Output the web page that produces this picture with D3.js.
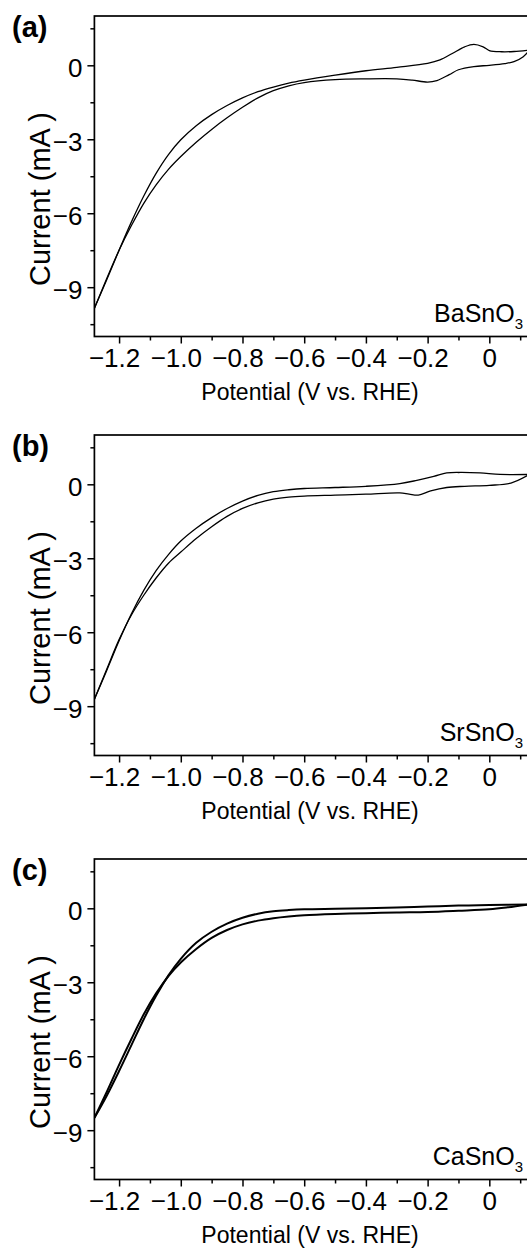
<!DOCTYPE html>
<html>
<head>
<meta charset="utf-8">
<script src="https://cdn.jsdelivr.net/npm/d3@7"></script>
<style>
  body { margin: 0; background: #fff; }
  svg text { font-family: "Liberation Sans", Arial, sans-serif; fill: #000; }
</style>
</head>
<body>
<div id="content"></div>
<script>
// tick values and labels
const potTicks = [-1.2, -1.0, -0.8, -0.6, -0.4, -0.2, 0];
const potTickLabels = ["\u22121.2", "\u22121.0", "\u22120.8", "\u22120.6", "\u22120.4", "\u22120.2", "0"];
const potMinor = [-1.1, -0.9, -0.7, -0.5, -0.3, -0.1, 0.1];
const curTicks = [0, -3, -6, -9];
const curTickLabels = ["0", "\u22123", "\u22126", "\u22129"];
const curMinor = [1.5, -1.5, -4.5, -7.5, -10.5];

const panelLetters = ["(a)", "(b)", "(c)"];
const sampleNames = ["BaSnO", "SrSnO", "CaSnO"];

// (a) BaSnO3 - return sweep (upper in the flat part) and cathodic sweep
const baPotUp  = [-1.28, -1.24, -1.2, -1.16, -1.12, -1.08, -1.04, -1.0, -0.95, -0.9, -0.85, -0.8, -0.75, -0.7, -0.65, -0.6, -0.5, -0.4, -0.3, -0.2, -0.16, -0.12, -0.08, -0.05, -0.02, 0.0, 0.04, 0.08, 0.13];
const baCurUp  = [-9.85, -8.7, -7.5, -6.35, -5.3, -4.38, -3.62, -3.02, -2.45, -2.0, -1.63, -1.32, -1.07, -0.88, -0.72, -0.6, -0.4, -0.22, -0.08, 0.08, 0.22, 0.48, 0.75, 0.85, 0.75, 0.6, 0.55, 0.56, 0.62];
const baPotDn  = [-1.28, -1.24, -1.2, -1.16, -1.12, -1.08, -1.04, -1.0, -0.95, -0.9, -0.85, -0.8, -0.75, -0.7, -0.65, -0.6, -0.5, -0.4, -0.3, -0.25, -0.2, -0.17, -0.13, -0.1, -0.05, 0.0, 0.05, 0.08, 0.11, 0.13];
const baCurDn  = [-9.85, -8.65, -7.5, -6.5, -5.6, -4.85, -4.22, -3.7, -3.12, -2.6, -2.13, -1.7, -1.32, -1.03, -0.83, -0.7, -0.58, -0.55, -0.55, -0.6, -0.68, -0.62, -0.38, -0.18, -0.05, 0.0, 0.07, 0.15, 0.35, 0.62];

// (b) SrSnO3
const srPotUp  = [-1.28, -1.24, -1.2, -1.16, -1.12, -1.08, -1.04, -1.0, -0.95, -0.9, -0.85, -0.8, -0.75, -0.7, -0.65, -0.6, -0.5, -0.4, -0.29, -0.235, -0.18, -0.138, -0.095, -0.03, 0.035, 0.13];
const srCurUp  = [-8.72, -7.55, -6.35, -5.25, -4.3, -3.5, -2.85, -2.3, -1.78, -1.35, -0.98, -0.68, -0.45, -0.3, -0.22, -0.17, -0.13, -0.08, 0.03, 0.16, 0.32, 0.46, 0.48, 0.46, 0.4, 0.4];
const srPotDn  = [-1.28, -1.24, -1.2, -1.16, -1.12, -1.08, -1.04, -1.0, -0.95, -0.9, -0.85, -0.8, -0.75, -0.7, -0.65, -0.6, -0.5, -0.4, -0.29, -0.26, -0.23, -0.19, -0.138, -0.08, 0.0, 0.07, 0.13];
const srCurDn  = [-8.72, -7.5, -6.3, -5.3, -4.5, -3.8, -3.2, -2.75, -2.2, -1.72, -1.3, -0.98, -0.75, -0.6, -0.52, -0.48, -0.44, -0.4, -0.35, -0.4, -0.44, -0.27, -0.13, -0.08, -0.04, 0.05, 0.4];

// (c) CaSnO3
const caPotUp  = [-1.28, -1.24, -1.2, -1.16, -1.12, -1.08, -1.04, -1.0, -0.95, -0.9, -0.85, -0.8, -0.75, -0.7, -0.65, -0.6, -0.5, -0.4, -0.3, -0.2, -0.1, 0.0, 0.13];
const caCurUp  = [-8.5, -7.6, -6.6, -5.55, -4.5, -3.55, -2.72, -2.05, -1.4, -0.95, -0.62, -0.38, -0.22, -0.12, -0.07, -0.04, -0.02, 0.0, 0.03, 0.07, 0.11, 0.13, 0.16];
const caPotDn  = [-1.28, -1.24, -1.2, -1.16, -1.12, -1.08, -1.04, -1.0, -0.95, -0.9, -0.85, -0.8, -0.75, -0.7, -0.65, -0.6, -0.5, -0.4, -0.3, -0.2, -0.1, 0.0, 0.06, 0.13];
const caCurDn  = [-8.5, -7.45, -6.35, -5.3, -4.3, -3.45, -2.75, -2.2, -1.65, -1.2, -0.88, -0.65, -0.5, -0.4, -0.33, -0.28, -0.23, -0.2, -0.17, -0.15, -0.1, -0.04, 0.04, 0.16];

const sweeps = [
  [[baPotUp, baCurUp], [baPotDn, baCurDn]],
  [[srPotUp, srCurUp], [srPotDn, srCurDn]],
  [[caPotUp, caCurUp], [caPotDn, caCurDn]]
];

const W = 527, H = 1248;
const plotTops = [16, 435, 859];
const plotH = 320.5;
const left = 94.4, right = 535.6;
const lineW = [1.3, 1.3, 2];

const svg = d3.select("#content").append("svg")
  .attr("width", W).attr("height", H);

const x = d3.scaleLinear().domain([-1.28, 0.15]).range([left, right]);

panelLetters.forEach(function(letter, i) {
  const top = plotTops[i];
  const y = d3.scaleLinear().domain([-11, 2]).range([top + plotH, top]);
  const g = svg.append("g");

  g.append("clipPath").attr("id", "clip" + i)
    .append("rect").attr("x", left).attr("y", top).attr("width", right - left).attr("height", plotH);

  // curves
  const line = d3.line().x(d => x(d[0])).y(d => y(d[1])).curve(d3.curveCatmullRom.alpha(0.5));
  sweeps[i].forEach(function(s) {
    const pts = s[0].map((v, k) => [v, s[1][k]]);
    g.append("path")
      .attr("d", line(pts))
      .attr("clip-path", "url(#clip" + i + ")")
      .style("fill", "none")
      .style("stroke", "#000")
      .style("stroke-width", lineW[i]);
  });

  // bottom axis
  const xAxis = g.append("g").attr("transform", "translate(0," + (top + plotH) + ")")
    .call(d3.axisBottom(x).tickValues(potTicks).tickSize(7).tickSizeOuter(0)
      .tickFormat((d, k) => potTickLabels[k]));
  xAxis.select(".domain").remove();
  xAxis.selectAll("line").style("stroke-width", 1.5);
  xAxis.selectAll("text")
    .attr("y", 30).attr("dy", null)
    .attr("x", d => d < 0 ? -5 : 0)
    .style("font-size", "26px");
  const xMinor = g.append("g").attr("transform", "translate(0," + (top + plotH) + ")")
    .call(d3.axisBottom(x).tickValues(potMinor).tickSize(4).tickSizeOuter(0).tickFormat(""));
  xMinor.select(".domain").remove();
  xMinor.selectAll("line").style("stroke-width", 1.5);

  // left axis
  const yAxis = g.append("g").attr("transform", "translate(" + left + ",0)")
    .call(d3.axisLeft(y).tickValues(curTicks).tickSize(7).tickSizeOuter(0)
      .tickFormat((d, k) => curTickLabels[k]));
  yAxis.select(".domain").remove();
  yAxis.selectAll("line").style("stroke-width", 1.5);
  yAxis.selectAll("text")
    .attr("x", -12)
    .attr("dy", "0.42em")
    .style("font-size", "26px");
  const yMinor = g.append("g").attr("transform", "translate(" + left + ",0)")
    .call(d3.axisLeft(y).tickValues(curMinor).tickSize(4).tickSizeOuter(0).tickFormat(""));
  yMinor.select(".domain").remove();
  yMinor.selectAll("line").style("stroke-width", 1.5);

  // frame
  g.append("rect")
    .attr("x", left).attr("y", top)
    .attr("width", right - left).attr("height", plotH)
    .style("fill", "none").style("stroke", "#000").style("stroke-width", 1.7);

  // axis titles
  g.append("text")
    .attr("x", 310).attr("y", top + plotH + 63)
    .attr("text-anchor", "middle")
    .style("font-size", "23px")
    .text("Potential (V vs. RHE)");

  g.append("text")
    .attr("transform", "translate(50," + (top + 183) + ") rotate(-90)")
    .attr("text-anchor", "middle")
    .style("font-size", "29px")
    .text("Current (mA )");

  // panel letter
  g.append("text")
    .attr("x", 12).attr("y", top + 21)
    .style("font-size", "29px").style("font-weight", "bold")
    .text(letter);

  // sample label
  const lab = g.append("text")
    .attr("x", 523).attr("y", top + plotH - 15)
    .attr("text-anchor", "end")
    .style("font-size", "25px");
  lab.append("tspan").text(sampleNames[i]);
  lab.append("tspan").attr("dy", 7).style("font-size", "15px").text("3");
});
</script>
</body>
</html>
